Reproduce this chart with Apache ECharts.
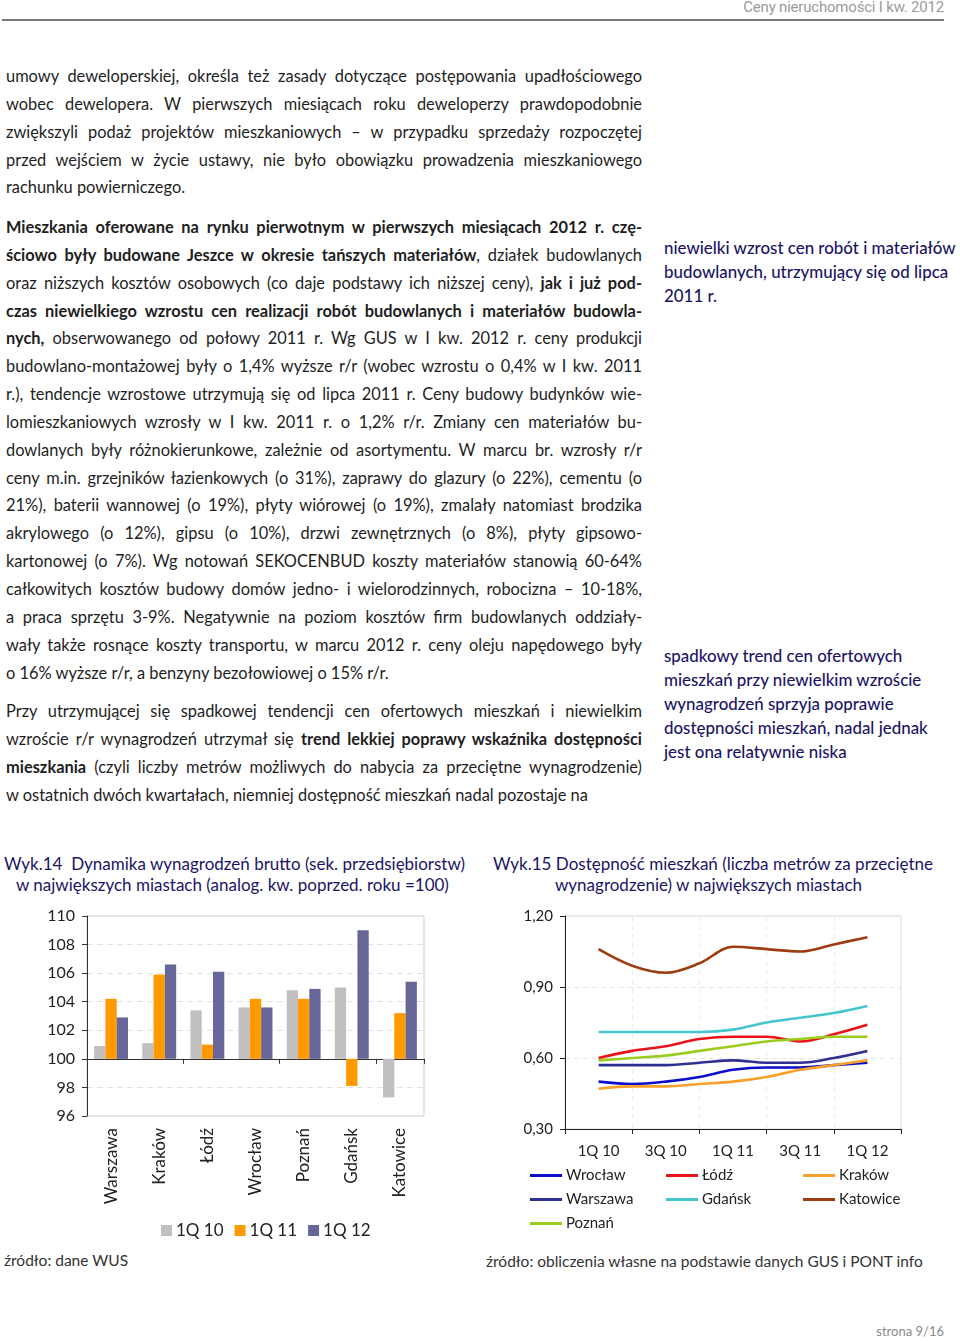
<!DOCTYPE html>
<html><head><meta charset="utf-8">
<script src="https://cdn.jsdelivr.net/npm/echarts@6/dist/echarts.min.js"></script>
<style>
html,body{margin:0;padding:0;background:#fff;}
body{width:960px;height:1341px;position:relative;overflow:hidden;font-family:Lato,"Noto Sans",sans-serif;color:#1e1e1e;}
.hdr{position:absolute;right:16px;top:-2px;font-size:15px;color:#9a9a9a;font-family:"Liberation Sans Narrow",Roboto,sans-serif;letter-spacing:-0.2px;}
.rule{position:absolute;left:2px;width:942px;top:19px;height:2px;background:#7a7a7a;}
.par{position:absolute;left:6px;width:636px;font-size:16.4px;}
.par div{height:27.85px;line-height:27.85px;text-align:justify;text-align-last:justify;white-space:nowrap;}
.par div.l{text-align:left;text-align-last:left;}
.par b{font-weight:700;}
.note{position:absolute;left:664px;width:296px;font-size:16.9px;line-height:24px;color:#1b1464;font-weight:500;}
.ttl{position:absolute;font-size:17px;color:#1b1464;line-height:21px;white-space:nowrap;}
.src{position:absolute;font-size:15.5px;color:#333;white-space:nowrap;}
.pg{position:absolute;right:16px;top:1323px;font-size:13px;color:#8a8a8a;}
#c1{position:absolute;left:0;top:900px;width:480px;height:350px;}
#c2{position:absolute;left:480px;top:900px;width:480px;height:350px;}
</style></head>
<body>
<div class="hdr">Ceny nieruchomości I kw. 2012</div>
<div class="rule"></div>

<div class="par" style="top:62px">
<div>umowy deweloperskiej, określa też zasady dotyczące postępowania upadłościowego</div>
<div>wobec dewelopera. W pierwszych miesiącach roku deweloperzy prawdopodobnie</div>
<div>zwiększyli podaż projektów mieszkaniowych – w przypadku sprzedaży rozpoczętej</div>
<div>przed wejściem w życie ustawy, nie było obowiązku prowadzenia mieszkaniowego</div>
<div class="l">rachunku powierniczego.</div>
</div>

<div class="par" style="top:213px">
<div><b>Mieszkania oferowane na rynku pierwotnym w pierwszych miesiącach 2012 r. czę-</b></div>
<div><b>ściowo były budowane Jeszce w okresie tańszych materiałów</b>, działek budowlanych</div>
<div>oraz niższych kosztów osobowych (co daje podstawy ich niższej ceny), <b>jak i już pod-</b></div>
<div><b>czas niewielkiego wzrostu cen realizacji robót budowlanych i materiałów budowla-</b></div>
<div><b>nych,</b> obserwowanego od połowy 2011 r. Wg GUS w I kw. 2012 r. ceny produkcji</div>
<div>budowlano-montażowej były o 1,4% wyższe r/r (wobec wzrostu o 0,4% w I kw. 2011</div>
<div>r.), tendencje wzrostowe utrzymują się od lipca 2011 r. Ceny budowy budynków wie-</div>
<div>lomieszkaniowych wzrosły w I kw. 2011 r. o 1,2% r/r. Zmiany cen materiałów bu-</div>
<div>dowlanych były różnokierunkowe, zależnie od asortymentu. W marcu br. wzrosły r/r</div>
<div>ceny m.in. grzejników łazienkowych (o 31%), zaprawy do glazury (o 22%), cementu (o</div>
<div>21%), baterii wannowej (o 19%), płyty wiórowej (o 19%), zmalały natomiast brodzika</div>
<div>akrylowego (o 12%), gipsu (o 10%), drzwi zewnętrznych (o 8%), płyty gipsowo-</div>
<div>kartonowej (o 7%). Wg notowań SEKOCENBUD koszty materiałów stanowią 60-64%</div>
<div>całkowitych kosztów budowy domów jedno- i wielorodzinnych, robocizna – 10-18%,</div>
<div>a praca sprzętu 3-9%. Negatywnie na poziom kosztów firm budowlanych oddziały-</div>
<div>wały także rosnące koszty transportu, w marcu 2012 r. ceny oleju napędowego były</div>
<div class="l">o 16% wyższe r/r, a benzyny bezołowiowej o 15% r/r.</div>
</div>

<div class="par" style="top:697px">
<div>Przy utrzymującej się spadkowej tendencji cen ofertowych mieszkań i niewielkim</div>
<div>wzroście r/r wynagrodzeń utrzymał się <b>trend lekkiej poprawy wskaźnika dostępności</b></div>
<div><b>mieszkania</b> (czyli liczby metrów możliwych do nabycia za przeciętne wynagrodzenie)</div>
<div class="l">w ostatnich dwóch kwartałach, niemniej dostępność mieszkań nadal pozostaje na</div>
</div>

<div class="note" style="top:236px">niewielki wzrost cen robót i materiałów<br>budowlanych, utrzymujący się od lipca<br>2011 r.</div>
<div class="note" style="top:644px">spadkowy trend cen ofertowych<br>mieszkań przy niewielkim wzroście<br>wynagrodzeń sprzyja poprawie<br>dostępności mieszkań, nadal jednak<br>jest ona relatywnie niska</div>

<div class="ttl" style="left:4px;top:853px;">Wyk.14&nbsp; Dynamika wynagrodzeń brutto (sek. przedsiębiorstw)</div>
<div class="ttl" style="left:16px;top:874px;">w największych miastach (analog. kw. poprzed. roku =100)</div>
<div class="ttl" style="left:493px;top:853px;">Wyk.15 Dostępność mieszkań (liczba metrów za przeciętne</div>
<div class="ttl" style="left:555px;top:874px;">wynagrodzenie) w największych miastach</div>

<div id="c1"></div>
<div id="c2"></div>

<div class="src" style="left:4px;top:1251px;">źródło: dane WUS</div>
<div class="src" style="left:486px;top:1252px;">źródło: obliczenia własne na podstawie danych GUS i PONT info</div>
<div class="pg">strona 9/16</div>

<script>
// ---- Wyk.14 data ----
const cities = ['Warszawa','Kraków','Łódź','Wrocław','Poznań','Gdańsk','Katowice'];
const wage1Q10 = [100.9, 101.1, 103.4, 103.6, 104.8, 105.0, 97.3];
const wage1Q11 = [104.2, 105.9, 101.0, 104.2, 104.2, 98.1, 103.2];
const wage1Q12 = [102.9, 106.6, 106.1, 103.6, 104.9, 109.0, 105.4];
const wageTicks = [96, 98, 100, 102, 104, 106, 108, 110];
const wageBase = 100;

// ---- Wyk.15 data ----
const quarters = ['1Q 10','2Q 10','3Q 10','4Q 10','1Q 11','2Q 11','3Q 11','4Q 11','1Q 12'];
const wroclaw  = [0.50, 0.49, 0.50, 0.52, 0.55, 0.56, 0.56, 0.57, 0.58];
const lodz     = [0.60, 0.63, 0.65, 0.68, 0.69, 0.69, 0.67, 0.70, 0.74];
const krakow   = [0.47, 0.48, 0.48, 0.49, 0.50, 0.52, 0.55, 0.57, 0.59];
const warszawa = [0.57, 0.57, 0.57, 0.58, 0.59, 0.58, 0.58, 0.60, 0.63];
const gdansk   = [0.71, 0.71, 0.71, 0.71, 0.72, 0.75, 0.77, 0.79, 0.82];
const katowice = [1.06, 0.99, 0.96, 1.00, 1.07, 1.06, 1.05, 1.08, 1.11];
const poznan   = [0.59, 0.60, 0.61, 0.63, 0.65, 0.67, 0.68, 0.69, 0.69];
const accessTicks = [0.30, 0.60, 0.90, 1.20];

const FONT = 'Lato, "Noto Sans", sans-serif';

// ---------- Chart 1 ----------
const c1 = echarts.init(document.getElementById('c1'));
const rel = arr => arr.map(v => +(v - wageBase).toFixed(2));
const barSeries = (name, arr, color) => ({
  name, type: 'bar', data: rel(arr), xAxisIndex: 0,
  barWidth: 11.3, barGap: '0%', itemStyle: { color }
});
c1.setOption({
  animation: false,
  textStyle: { fontFamily: FONT },
  grid: { left: 87, top: 16, width: 337, height: 200, show: true, borderColor: '#d0d0d0', borderWidth: 1 },
  legend: {
    left: 156, top: 317, itemWidth: 11, itemHeight: 11, itemGap: 11, icon: 'rect',
    textStyle: { fontSize: 17, color: '#222', fontFamily: FONT, padding: [0,0,0,-1] },
    data: ['1Q 10','1Q 11','1Q 12']
  },
  xAxis: [
    { type: 'category', data: cities, position: 'bottom',
      axisLine: { onZero: true, lineStyle: { color: '#333', width: 1 } },
      axisTick: { show: true, length: 5, lineStyle: { color: '#333' } },
      axisLabel: { show: false }, splitLine: { show: false } },
    { type: 'category', data: cities, position: 'bottom',
      axisLine: { show: false, onZero: false }, axisTick: { show: false },
      axisLabel: { rotate: 90, fontSize: 17, color: '#222', margin: 12, fontFamily: FONT } }
  ],
  yAxis: {
    type: 'value', min: wageTicks[0] - wageBase, max: wageTicks[wageTicks.length-1] - wageBase, interval: 2,
    axisLine: { show: true, lineStyle: { color: '#333' } },
    axisTick: { show: true, length: 5, lineStyle: { color: '#333' } },
    axisLabel: { fontSize: 16, color: '#222', margin: 12, formatter: v => String(v + wageBase) },
    splitLine: { show: true, lineStyle: { color: '#e2e2e2', type: [6,4] } }
  },
  series: [
    barSeries('1Q 10', wage1Q10, '#c0c0c0'),
    barSeries('1Q 11', wage1Q11, '#ff9900'),
    barSeries('1Q 12', wage1Q12, '#666699')
  ]
});

// ---------- Chart 2 ----------
const c2 = echarts.init(document.getElementById('c2'));
const padded = arr => [null, ...arr, null];
const xData = ['', ...quarters, ''];
const lineSeries = (name, arr, color) => ({
  name, type: 'line', data: padded(arr), smooth: 0.35, showSymbol: false, symbol: 'none',
  lineStyle: { color, width: 2.6 }, itemStyle: { color }
});
const legendCommon = {
  orient: 'vertical', top: 263, itemWidth: 32, itemHeight: 3, itemGap: 9, icon: 'rect',
  textStyle: { fontSize: 15, color: '#222', fontFamily: FONT, padding: [0,0,0,-1] }
};
c2.setOption({
  animation: false,
  textStyle: { fontFamily: FONT },
  grid: { left: 85, top: 16, width: 336, height: 213, show: true, borderColor: '#d8d8d8', borderWidth: 1 },
  legend: [
    Object.assign({ left: 45, data: ['Wrocław','Warszawa','Poznań'] }, legendCommon),
    Object.assign({ left: 181, data: ['Łódź','Gdańsk'] }, legendCommon),
    Object.assign({ left: 318, data: ['Kraków','Katowice'] }, legendCommon)
  ],
  xAxis: {
    type: 'category', data: xData, boundaryGap: false,
    axisLine: { onZero: false, lineStyle: { color: '#222' } },
    axisTick: { show: true, length: 5, interval: (i) => i % 2 === 0, lineStyle: { color: '#222' } },
    axisLabel: { fontSize: 15, color: '#222', margin: 15, interval: (i) => i % 2 === 1 },
    splitLine: { show: true, interval: (i) => i % 2 === 0, lineStyle: { color: '#ececec', type: [5,4] } }
  },
  yAxis: {
    type: 'value', min: accessTicks[0], max: accessTicks[accessTicks.length-1], interval: 0.3,
    axisLine: { show: true, lineStyle: { color: '#222' } },
    axisTick: { show: true, length: 5, lineStyle: { color: '#222' } },
    axisLabel: { fontSize: 15, color: '#222', margin: 12, formatter: v => v.toFixed(2).replace('.', ',') },
    splitLine: { show: true, lineStyle: { color: '#e6e6e6', type: [5,4] } }
  },
  series: [
    lineSeries('Katowice', katowice, '#9c3d12'),
    lineSeries('Gdańsk', gdansk, '#45c6cc'),
    lineSeries('Łódź', lodz, '#e8141a'),
    lineSeries('Poznań', poznan, '#9acd1e'),
    lineSeries('Warszawa', warszawa, '#2e3192'),
    lineSeries('Wrocław', wroclaw, '#0d0dcc'),
    lineSeries('Kraków', krakow, '#f7a12a')
  ]
});
</script>
</body></html>
